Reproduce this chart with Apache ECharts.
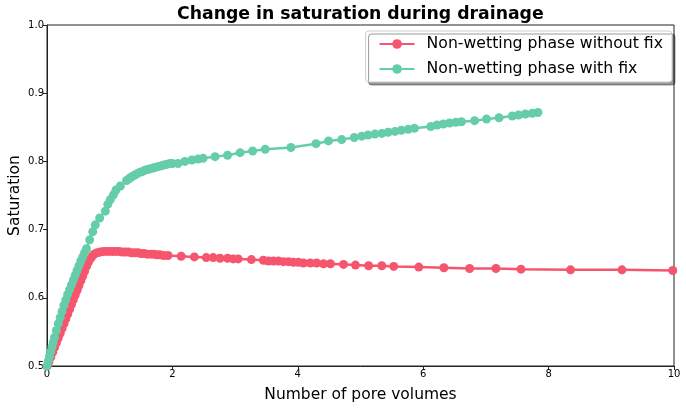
<!DOCTYPE html>
<html>
<head>
<meta charset="utf-8">
<script src="https://cdn.jsdelivr.net/npm/echarts@6/dist/echarts.min.js"></script>
<style>
  html, body { margin: 0; padding: 0; background: #fff; }
  #chart { width: 686px; height: 409px; }
</style>
</head>
<body>
<div id="chart"></div>
<script>
// Non-wetting phase without fix
const redX = [0, 0.03, 0.06, 0.09, 0.12, 0.15, 0.18, 0.21, 0.24, 0.27, 0.30, 0.33, 0.36, 0.39, 0.42, 0.45, 0.48, 0.51, 0.54, 0.57, 0.60, 0.63, 0.66, 0.69, 0.72, 0.75, 0.80, 0.85, 0.90, 0.95, 1.00, 1.05, 1.10, 1.15, 1.20, 1.25, 1.30, 1.35, 1.40, 1.45, 1.50, 1.55, 1.60, 1.65, 1.70, 1.75, 1.80, 1.86,
  1.93, 2.14, 2.35, 2.54, 2.65, 2.76, 2.88, 2.97, 3.05, 3.26, 3.45, 3.53, 3.61, 3.69, 3.77, 3.85, 3.93, 4.01, 4.09, 4.20, 4.30, 4.41, 4.52, 4.73, 4.92, 5.13, 5.34, 5.53, 5.93, 6.33, 6.74, 7.16, 7.56, 8.35, 9.17, 9.98];
const redY = [0.500, 0.506, 0.513, 0.520, 0.527, 0.534, 0.541, 0.548, 0.555, 0.562, 0.569, 0.576, 0.583, 0.590, 0.597, 0.604, 0.611, 0.618, 0.625, 0.632, 0.639, 0.646, 0.652, 0.657, 0.661, 0.664, 0.666, 0.667, 0.668, 0.668, 0.668, 0.668, 0.668, 0.668, 0.667, 0.667, 0.667, 0.666, 0.666, 0.666, 0.665, 0.665, 0.664, 0.664, 0.664, 0.663, 0.663, 0.662,
  0.662, 0.661, 0.660, 0.659, 0.659, 0.658, 0.658, 0.657, 0.657, 0.656, 0.655, 0.654, 0.654, 0.654, 0.653, 0.653, 0.652, 0.652, 0.651, 0.651, 0.651, 0.650, 0.650, 0.649, 0.648, 0.647, 0.647, 0.646, 0.645, 0.644, 0.643, 0.643, 0.642, 0.641, 0.641, 0.640];

// Non-wetting phase with fix
const greenX = [0, 0.02, 0.04, 0.06, 0.08, 0.10, 0.12, 0.15, 0.18, 0.21, 0.24, 0.27, 0.30, 0.33, 0.36, 0.39, 0.42, 0.45, 0.48, 0.51, 0.54, 0.57, 0.60, 0.63,
  0.68, 0.73, 0.77, 0.84, 0.93, 0.97, 1.01, 1.06, 1.10, 1.17, 1.27,
  1.30, 1.33, 1.36, 1.40, 1.44, 1.48, 1.52, 1.56, 1.60, 1.64, 1.68, 1.72, 1.76, 1.80, 1.84, 1.88, 1.92, 1.96, 2.00,
  2.09, 2.20, 2.31, 2.41, 2.49, 2.68, 2.88, 3.08, 3.28, 3.48, 3.89, 4.29, 4.49, 4.70, 4.90, 5.02, 5.12, 5.23, 5.34, 5.44, 5.55, 5.65, 5.76, 5.86,
  6.12, 6.22, 6.32, 6.42, 6.52, 6.61, 6.82, 7.01, 7.21, 7.42, 7.52, 7.63, 7.74, 7.83];
const greenY = [0.500, 0.507, 0.514, 0.521, 0.528, 0.535, 0.542, 0.552, 0.562, 0.571, 0.580, 0.589, 0.597, 0.605, 0.612, 0.619, 0.626, 0.633, 0.640, 0.647, 0.654, 0.660, 0.666, 0.672,
  0.685, 0.697, 0.707, 0.717, 0.727, 0.737, 0.744, 0.751, 0.758, 0.764, 0.772,
  0.774, 0.776, 0.778, 0.780, 0.782, 0.784, 0.785, 0.787, 0.788, 0.789, 0.790, 0.791, 0.792, 0.793, 0.794, 0.795, 0.796, 0.797, 0.797,
  0.797, 0.800, 0.802, 0.8035, 0.8045, 0.807, 0.809, 0.8128, 0.8152, 0.8177, 0.8204, 0.826, 0.830, 0.832, 0.835, 0.837, 0.8387, 0.840, 0.841, 0.8427, 0.844, 0.8456, 0.847, 0.8485,
  0.851, 0.8534, 0.8548, 0.8563, 0.8573, 0.8582, 0.8597, 0.862, 0.864, 0.8666, 0.868, 0.8695, 0.8705, 0.8717];

const seriesNames = ['Non-wetting phase without fix', 'Non-wetting phase with fix'];
const RED = '#f5566d';
const GREEN = '#66cdaa';
const FONT = 'DejaVu Sans';

const toPairs = (xs, ys) => xs.map((x, i) => [x, ys[i]]);

const chart = echarts.init(document.getElementById('chart'), null, { renderer: 'canvas' });

const option = {
    animation: false,
    backgroundColor: '#fff',
    title: {
        text: 'Change in saturation during drainage',
        left: 172,
        top: 1,
        textStyle: { fontFamily: FONT, fontSize: 17.3, fontWeight: 'bold', color: '#000' }
    },
    legend: {
        data: seriesNames,
        orient: 'vertical',
        right: 14,
        top: 31,
        itemWidth: 35,
        itemHeight: 12,
        itemGap: 9,
        padding: [5, 9, 5, 13],
        backgroundColor: '#fff',
        borderColor: '#ccc',
        borderWidth: 1,
        borderRadius: 3,
        shadowColor: 'rgba(0,0,0,0.4)',
        shadowBlur: 0,
        shadowOffsetX: 3,
        shadowOffsetY: 3,
        textStyle: { fontFamily: FONT, fontSize: 15.7, color: '#000', padding: [0, 0, 0, 7] }
    },
    grid: {
        left: 47, right: 12, top: 25, bottom: 43,
        containLabel: false, outerBoundsMode: 'none',
        show: true, borderColor: '#222', borderWidth: 1
    },
    xAxis: {
        type: 'value',
        min: 0,
        max: 10,
        interval: 2,
        name: 'Number of pore volumes',
        nameLocation: 'middle',
        nameGap: 21,
        nameMoveOverlap: false,
        nameTextStyle: { fontFamily: FONT, fontSize: 15.5, color: '#000' },
        axisLine: { show: true, lineStyle: { color: '#222' } },
        axisTick: { show: true, length: 4, lineStyle: { color: '#222' } },
        axisLabel: { fontFamily: FONT, fontSize: 10, color: '#000', margin: 3 },
        splitLine: { show: false }
    },
    yAxis: {
        type: 'value',
        min: 0.5,
        max: 1.0,
        interval: 0.1,
        name: 'Saturation',
        nameLocation: 'middle',
        nameGap: 24,
        nameMoveOverlap: false,
        nameTextStyle: { fontFamily: FONT, fontSize: 15.5, color: '#000' },
        axisLine: { show: true, lineStyle: { color: '#222' } },
        axisTick: { show: true, length: 4, lineStyle: { color: '#222' } },
        axisLabel: { fontFamily: FONT, fontSize: 10, color: '#000', margin: 3, formatter: v => v.toFixed(1) },
        splitLine: { show: false }
    },
    series: [
        {
            name: seriesNames[0],
            type: 'line',
            data: toPairs(redX, redY),
            symbol: 'circle',
            symbolSize: 9,
            showAllSymbol: true,
            lineStyle: { color: RED, width: 2.5 },
            itemStyle: { color: RED }
        },
        {
            name: seriesNames[1],
            type: 'line',
            data: toPairs(greenX, greenY),
            symbol: 'circle',
            symbolSize: 9,
            showAllSymbol: true,
            lineStyle: { color: GREEN, width: 2.5 },
            itemStyle: { color: GREEN }
        }
    ]
};
chart.setOption(option);
</script>
</body>
</html>
